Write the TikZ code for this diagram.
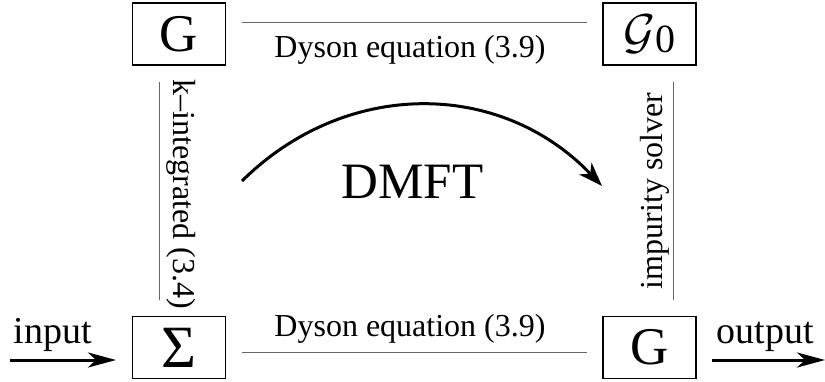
\documentclass[tikz,border=0pt]{standalone}
\usepackage{fix-cm}
\usepackage{fontspec}
\setmainfont{Liberation Serif}
\usetikzlibrary{arrows.meta,calc}
\begin{document}
\begin{tikzpicture}[x=1pt,y=1pt,
  qbox/.style={draw, line width=1.2pt, minimum width=93pt, minimum height=62pt, inner sep=0pt,
    font=\fontsize{53}{60}\selectfont},
  conn/.style={draw=black!60, line width=1pt},
  lbl/.style={inner sep=0pt, anchor=base, font=\fontsize{32}{36}\selectfont},
  iolbl/.style={inner sep=0pt, anchor=base, font=\fontsize{38}{42}\selectfont},
  fatarrow/.style={line width=3pt, -{Stealth[length=28pt, width=15pt, inset=8pt]}},
  bigarrow/.style={line width=3pt, -{Stealth[length=24pt, width=17pt, inset=7pt]}}
]
\useasboundingbox (0,0) rectangle (825,-381);

% boxes
\node[qbox] (Gtl) at (179,-34) {G};
\node[qbox] (G0)  at (649.5,-34) {\fontsize{49}{56}\selectfont$\mathcal{G}$\kern-1pt\raisebox{-4pt}{\fontsize{40}{40}\selectfont 0}};
\node[qbox] (Sig) at (179,-347.5) {\fontsize{60}{60}\selectfont Σ};
\node[qbox] (Gbr) at (649.5,-347.5) {G};

% connector ends
\coordinate (ta) at (242,-22);
\coordinate (tb) at (587,-22);
\coordinate (ba) at (242,-352);
\coordinate (bb) at (587,-352);
\coordinate (la) at (159,-82);
\coordinate (lb) at (159,-300);
\coordinate (ra) at (673,-82);
\coordinate (rb) at (673,-300);

\draw[conn] (ta) -- (tb);
\draw[conn] (ba) -- (bb);
\draw[conn] (la) -- (lb);
\draw[conn] (ra) -- (rb);

% labels
\node[lbl] (dt) at (410,-57) {Dyson equation (3.9)};
\node[lbl] (db) at (410,-336) {Dyson equation (3.9)};
\node[lbl, rotate=-90] (kint) at (173,-194.5) {k–integrated (3.4)};
\node[lbl, rotate=90] (imp) at (662,-191) {impurity solver};

% DMFT
\node[inner sep=0pt, anchor=base, font=\fontsize{51}{56}\selectfont] (dmft) at (412.5,-198) {DMFT};
\coordinate (ca) at (242,-181);
\coordinate (cb) at (602,-186);
\draw[bigarrow] (ca) .. controls (345,-79) and (500,-79) .. (cb);

% input / output
\coordinate (ia) at (10,-360);
\coordinate (ib) at (116,-360);
\coordinate (oa) at (712,-360);
\coordinate (ob) at (825,-360);
\draw[fatarrow] (ia) -- (ib);
\draw[fatarrow] (oa) -- (ob);
\node[iolbl] (in) at (52.5,-343) {input};
\node[iolbl] (out) at (765.5,-343) {output};
\end{tikzpicture}
\end{document}
